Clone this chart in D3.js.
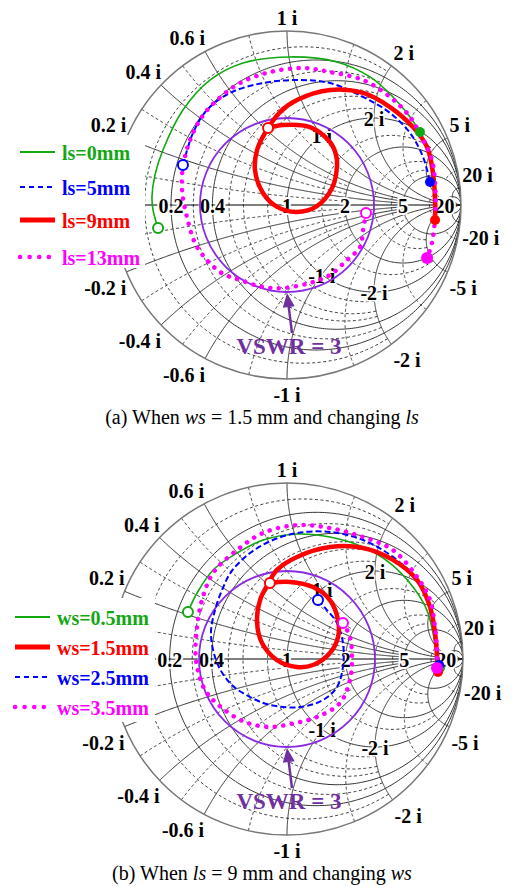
<!DOCTYPE html>
<html>
<head>
<meta charset="utf-8">
<script src="https://cdn.jsdelivr.net/npm/d3@7"></script>
<style>
body { margin: 0; background: #fff; }
text { font-family: "Liberation Serif", "Times New Roman", serif; }
</style>
</head>
<body>
<svg width="512" height="886"></svg>
<script>
var svg = d3.select("svg");

// smith chart grid values
var rMajor = [0.2, 0.4, 1, 2, 5, 20],
    rMinor = [0.1, 0.3, 0.5, 0.6, 0.8, 1.5, 3, 4, 10],
    xMajor = [0.2, 0.4, 0.6, 1, 2, 5, 20],
    xMinor = [0.1, 0.3, 0.5, 0.8, 1.5, 3, 10],
    xInner = [1, 2],
    vswr = 3;

// (a) ws = 1.5 mm, ls changes  -> reflection coefficient [re, im]
var lsNames = ["ls=0mm", "ls=5mm", "ls=9mm", "ls=13mm"];
var ls0 = [[-0.741,-0.132],[-0.770,-0.029],[-0.776,0.046],[-0.759,0.172],[-0.713,0.316],[-0.598,0.546],
           [-0.443,0.718],[-0.253,0.816],[0.017,0.851],[0.287,0.822],[0.477,0.736],[0.609,0.621],
           [0.707,0.506],[0.764,0.420]];
var ls5 = [[-0.598,0.230],[-0.540,0.414],[-0.460,0.546],[-0.328,0.644],[-0.138,0.701],[0.057,0.718],
           [0.247,0.701],[0.437,0.621],[0.592,0.529],[0.707,0.414],[0.782,0.276],[0.822,0.132]];
var ls9 = [[-0.109,0.443],[-0.023,0.460],[0.132,0.448],[0.247,0.362],[0.282,0.287],[0.287,0.218],
           [0.259,0.098],[0.172,-0.006],[0.057,-0.040],[-0.057,-0.011],[-0.138,0.069],[-0.184,0.201],
           [-0.172,0.316],[-0.126,0.414],[-0.040,0.534],[0.057,0.603],[0.247,0.661],[0.437,0.644],
           [0.592,0.563],[0.724,0.448],[0.805,0.333],[0.839,0.184],[0.851,0.029],[0.851,-0.086]];
var ls13 = [[0.454,-0.046],[0.437,-0.144],[0.420,-0.241],[0.345,-0.316],[0.247,-0.402],[0.132,-0.448],
            [-0.023,-0.477],[-0.138,-0.471],[-0.270,-0.431],[-0.385,-0.385],[-0.517,-0.241],[-0.575,-0.069],
            [-0.603,0.086],[-0.598,0.218],[-0.557,0.374],[-0.489,0.506],[-0.402,0.603],[-0.270,0.701],
            [-0.098,0.764],[0.092,0.787],[0.247,0.764],[0.437,0.718],[0.592,0.621],[0.707,0.506],
            [0.782,0.374],[0.833,0.259],[0.851,0.126],[0.851,-0.069],[0.833,-0.218],[0.805,-0.305]];

// (b) ls = 9 mm, ws changes
var wsNames = ["ws=0.5mm", "ws=1.5mm", "ws=2.5mm", "ws=3.5mm"];
var ws05 = [[-0.563,0.267],[-0.511,0.375],[-0.420,0.506],[-0.284,0.602],[-0.136,0.676],[0.057,0.710],
            [0.244,0.693],[0.432,0.636],[0.585,0.545],[0.716,0.409],[0.795,0.278],[0.830,0.148],
            [0.852,0.023],[0.869,-0.051]];
var ws15 = [[-0.097,0.432],[0.017,0.438],[0.148,0.409],[0.244,0.335],[0.290,0.222],[0.290,0.125],
            [0.244,0.034],[0.148,-0.034],[0.057,-0.045],[-0.057,-0.006],[-0.142,0.091],[-0.170,0.205],
            [-0.153,0.335],[-0.114,0.415],[-0.057,0.506],[0.057,0.580],[0.244,0.636],[0.432,0.631],
            [0.602,0.563],[0.739,0.449],[0.813,0.295],[0.841,0.148],[0.852,0.023],[0.858,-0.074]];
var ws25 = [[0.176,0.335],[0.227,0.278],[0.284,0.205],[0.318,0.091],[0.318,-0.045],[0.284,-0.159],
            [0.205,-0.233],[0.074,-0.273],[-0.097,-0.261],[-0.210,-0.216],[-0.313,-0.148],[-0.392,-0.034],
            [-0.432,0.136],[-0.409,0.278],[-0.369,0.392],[-0.318,0.494],[-0.210,0.602],[-0.080,0.676],
            [0.057,0.716],[0.244,0.722],[0.432,0.676],[0.602,0.580],[0.739,0.449],[0.813,0.295],
            [0.841,0.165],[0.858,0.051],[0.864,-0.034]];
var ws35 = [[0.318,0.205],[0.358,0.125],[0.369,-0.006],[0.358,-0.119],[0.301,-0.250],[0.170,-0.330],
            [0.045,-0.364],[-0.097,-0.386],[-0.239,-0.358],[-0.369,-0.278],[-0.466,-0.176],[-0.517,-0.006],
            [-0.511,0.182],[-0.483,0.335],[-0.420,0.489],[-0.284,0.619],[-0.136,0.716],[0.057,0.761],
            [0.244,0.744],[0.432,0.693],[0.602,0.619],[0.739,0.466],[0.813,0.335],[0.841,0.182],
            [0.852,0.063],[0.852,-0.051]];

// stijlen per reeks (groen, rood dik, blauw gestreept, magenta gestippeld)
var styles = {
    green:   { color: "#12a812", width: 1.6, dash: null, cap: "butt", lw: 2, ldash: null },
    blue:    { color: "#0000ff", width: 2, dash: "6,3", cap: "butt", lw: 2, ldash: "5,4" },
    red:     { color: "#ff0000", width: 4.5, dash: null, cap: "round", lw: 5, ldash: null },
    magenta: { color: "#ff00ff", width: 4.5, dash: "0.1,8.5", cap: "round", lw: 4.5, ldash: "0.1,9.5" }
};

function gamma(r, x) {
    var d = (r + 1) * (r + 1) + x * x;
    return [(r * r - 1 + x * x) / d, 2 * x / d];
}
function rCircle(r, xmax) {
    var t0 = Math.atan(xmax);
    return d3.range(0, 401).map(function (i) {
        var t = -t0 + 2 * t0 * i / 400;
        return gamma(r, Math.tan(t));
    });
}
function xArc(x, rmax) {
    var t0 = Math.min(Math.atan(rmax), Math.PI / 2 - 1e-6);
    return d3.range(0, 301).map(function (i) {
        return gamma(Math.tan(t0 * i / 300), x);
    });
}
// hoe ver een gridlijn doorloopt (zoals mathcad: kleine waarden stoppen eerder)
function majorXLimit(x) { return x < 1 ? 5 : (x < 5 ? 20 : Infinity); }
function minorLimit(v) { return v < 1 ? 2 : 5; }

function smith(opt) {
    var sx = d3.scaleLinear().domain([-1, 1]).range([opt.cx - opt.R, opt.cx + opt.R]),
        sy = d3.scaleLinear().domain([-1, 1]).range([opt.cy + opt.R, opt.cy - opt.R]);
    var line = d3.line().x(function (d) { return sx(d[0]); }).y(function (d) { return sy(d[1]); });
    var curve = d3.line().x(function (d) { return sx(d[0]); }).y(function (d) { return sy(d[1]); })
        .curve(d3.curveCatmullRom);

    var g = svg.append("g");
    svg.append("clipPath").attr("id", "clip" + opt.id)
        .append("circle").attr("cx", sx(0)).attr("cy", sy(0)).attr("r", opt.R);

    var grid = g.append("g").attr("fill", "none").attr("clip-path", "url(#clip" + opt.id + ")");
    rMinor.forEach(function (r) {
        grid.append("path").attr("d", line(rCircle(r, minorLimit(r))))
            .attr("stroke", "#222").attr("stroke-width", 0.9).attr("stroke-dasharray", "3,2.5");
    });
    xMinor.forEach(function (x) {
        [x, -x].forEach(function (xx) {
            grid.append("path").attr("d", line(xArc(xx, minorLimit(x))))
                .attr("stroke", "#222").attr("stroke-width", 0.9).attr("stroke-dasharray", "3,2.5");
        });
    });
    rMajor.forEach(function (r) {
        grid.append("path").attr("d", line(rCircle(r, Infinity)))
            .attr("stroke", "#333").attr("stroke-width", 1);
    });
    xMajor.forEach(function (x) {
        [x, -x].forEach(function (xx) {
            grid.append("path").attr("d", line(xArc(xx, majorXLimit(x))))
                .attr("stroke", "#333").attr("stroke-width", 1);
        });
    });
    g.append("line").attr("x1", sx(-1)).attr("x2", sx(1)).attr("y1", sy(0)).attr("y2", sy(0))
        .attr("stroke", "#000").attr("stroke-width", 1.2);
    g.append("circle").attr("cx", sx(0)).attr("cy", sy(0)).attr("r", opt.R)
        .attr("fill", "none").attr("stroke", "#777").attr("stroke-width", 1.5);

    // labels op de reele as
    var lab = g.append("g").attr("font-weight", "bold").attr("font-size", 20).attr("fill", "#000");
    rMajor.forEach(function (r) {
        var p = gamma(r, 0);
        lab.append("text").attr("x", sx(p[0])).attr("y", sy(0) + 1)
            .attr("text-anchor", "middle").attr("dominant-baseline", "central")
            .attr("stroke", "#fff").attr("stroke-width", 4).attr("paint-order", "stroke")
            .text(r);
    });
    // reactantie labels buiten de cirkel
    xMajor.forEach(function (x) {
        [x, -x].forEach(function (xx) {
            var p = gamma(0, xx), px = sx(p[0]), py = sy(p[1]);
            var anchor = x === 1 ? "middle" : (p[0] > 0 ? "start" : "end");
            lab.append("text").attr("x", px + (anchor === "start" ? 2 : 0))
                .attr("y", py + (xx > 0 ? -13 : 16))
                .attr("text-anchor", anchor).attr("dominant-baseline", "central")
                .text(xx + " i");
        });
    });
    // binnen labels op de r=1 cirkel
    xInner.forEach(function (x) {
        [x, -x].forEach(function (xx) {
            var p = gamma(1, xx);
            lab.append("text").attr("x", sx(p[0])).attr("y", sy(p[1]) + 1)
                .attr("text-anchor", "middle").attr("dominant-baseline", "central")
                .attr("stroke", "#fff").attr("stroke-width", 3).attr("paint-order", "stroke")
                .text(xx + " i");
        });
    });

    // VSWR cirkel
    var gv = (vswr - 1) / (vswr + 1);
    g.append("circle").attr("cx", sx(0)).attr("cy", sy(0)).attr("r", sx(gv) - sx(0))
        .attr("fill", "none").attr("stroke", "#8a2be2").attr("stroke-width", 1.8);

    // curves
    opt.series.forEach(function (s) {
        var st = styles[s.style];
        g.append("path").attr("d", curve(s.data)).attr("fill", "none")
            .attr("stroke", st.color).attr("stroke-width", st.width)
            .attr("stroke-dasharray", st.dash).attr("stroke-linecap", st.cap)
            .attr("stroke-linejoin", "round");
    });
    opt.series.forEach(function (s) {
        var st = styles[s.style], a = s.data[0], b = s.data[s.data.length - 1];
        g.append("circle").attr("cx", sx(a[0])).attr("cy", sy(a[1])).attr("r", 5)
            .attr("fill", "#fff").attr("stroke", st.color).attr("stroke-width", 2);
        g.append("circle").attr("cx", sx(b[0])).attr("cy", sy(b[1])).attr("r", s.style === "magenta" ? 6 : 5)
            .attr("fill", st.color);
    });

    // pijl naar VSWR cirkel
    var tipX = sx(0), tipY = sy(-gv) + 1;
    var tailX = tipX + 5, tailY = tipY + 40;
    var ang = Math.atan2(tipY - tailY, tipX - tailX);
    var hl = 14, hw = 6;
    var bx = tipX - hl * Math.cos(ang), by = tipY - hl * Math.sin(ang);
    g.append("line").attr("x1", tailX).attr("y1", tailY).attr("x2", bx).attr("y2", by)
        .attr("stroke", "#7030a0").attr("stroke-width", 2.5);
    g.append("path").attr("fill", "#7030a0").attr("d",
        "M" + tipX + "," + tipY +
        "L" + (bx + hw * Math.sin(ang)) + "," + (by - hw * Math.cos(ang)) +
        "L" + (bx - hw * Math.sin(ang)) + "," + (by + hw * Math.cos(ang)) + "Z");
    g.append("text").attr("x", tipX + 2).attr("y", tipY + 53)
        .attr("text-anchor", "middle").attr("dominant-baseline", "central")
        .attr("font-weight", "bold").attr("font-size", 23).attr("fill", "#7030a0")
        .text("VSWR = " + vswr);

    // legenda
    var lg = svg.append("g");
    lg.append("rect").attr("x", 0).attr("y", opt.legend.y0).attr("width", opt.legend.w)
        .attr("height", opt.legend.h).attr("fill", "#fff");
    opt.legendOrder.forEach(function (s, i) {
        var st = styles[s.style], y = opt.legend.rows[i];
        lg.append("line").attr("x1", opt.legend.x0).attr("x2", opt.legend.x0 + 35)
            .attr("y1", y).attr("y2", y).attr("stroke", st.color).attr("stroke-width", st.lw)
            .attr("stroke-dasharray", st.ldash).attr("stroke-linecap", s.style === "magenta" ? "round" : "butt");
        lg.append("text").attr("x", opt.legend.x0 + 42).attr("y", y + 1)
            .attr("dominant-baseline", "central").attr("font-weight", "bold")
            .attr("font-size", 20).attr("fill", st.color).text(s.name);
    });

    // onderschrift
    var cap = svg.append("text").attr("x", opt.caption.x).attr("y", opt.caption.y)
        .attr("text-anchor", "middle").attr("font-size", 20).attr("fill", "#000");
    opt.caption.parts.forEach(function (p) {
        cap.append("tspan").attr("font-style", p[1] ? "italic" : "normal").text(p[0]);
    });
}

var seriesA = [
    { name: lsNames[0], data: ls0, style: "green" },
    { name: lsNames[1], data: ls5, style: "blue" },
    { name: lsNames[2], data: ls9, style: "red" },
    { name: lsNames[3], data: ls13, style: "magenta" }
];
smith({
    id: "a", cx: 287, cy: 205, R: 174,
    series: seriesA, legendOrder: seriesA,
    legend: { y0: 135, w: 145, h: 133, x0: 20, rows: [152, 187, 220, 257] },
    caption: { x: 262, y: 424, parts: [["(a) When ", false], ["ws", true], [" = 1.5 mm and changing ", false], ["ls", true]] }
});

var seriesB = [
    { name: wsNames[0], data: ws05, style: "green" },
    { name: wsNames[2], data: ws25, style: "blue" },
    { name: wsNames[1], data: ws15, style: "red" },
    { name: wsNames[3], data: ws35, style: "magenta" }
];
smith({
    id: "b", cx: 287, cy: 659, R: 176,
    series: seriesB, legendOrder: [seriesB[0], seriesB[2], seriesB[1], seriesB[3]],
    legend: { y0: 598, w: 155, h: 124, x0: 15, rows: [617, 647, 677, 707] },
    caption: { x: 262, y: 880, parts: [["(b) When ", false], ["ls", true], [" = 9 mm and changing ", false], ["ws", true]] }
});
</script>
</body>
</html>
